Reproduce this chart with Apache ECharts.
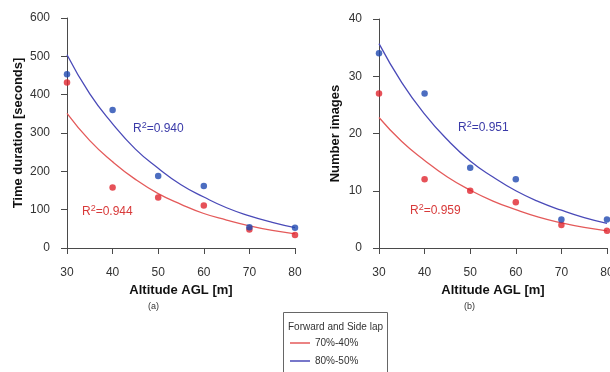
<!DOCTYPE html>
<html><head><meta charset="utf-8">
<script src="https://cdn.jsdelivr.net/npm/echarts@6/dist/echarts.min.js"></script>
<style>html,body{margin:0;padding:0;background:#fff}#c{width:610px;height:372px}</style>
</head><body><div id="c"></div>
<script>
// Data
const altitudes = [30, 40, 50, 60, 70, 80];
const timeRed = [432, 158, 132, 111, 48, 34];     // 70%-40%
const timeBlue = [453, 360, 188, 162, 54, 53];    // 80%-50%
const imgRed = [27, 12, 10, 8, 4, 3];
const imgBlue = [34, 27, 14, 12, 5, 5];
// fitted trend curves
const fitX = [30, 35, 40, 45, 50, 55, 60, 65, 70, 75, 80];
const timeFitRed = [351, 280, 225, 179, 142, 114, 90, 73, 58, 46, 37];
const timeFitBlue = [504, 402, 324, 258, 208, 165, 133, 105, 84, 67, 53];
const imgFitRed = [22.8, 18.6, 15.3, 12.4, 10.1, 8.2, 6.7, 5.4, 4.4, 3.6, 3.0];
const imgFitBlue = [35.7, 28.9, 23.4, 18.9, 15.2, 12.4, 10.0, 8.1, 6.6, 5.3, 4.3];
const r2Labels = ['0.944', '0.940', '0.959', '0.951'];
const xTitle = 'Altitude AGL [m]';
const yTitles = ['Time duration [seconds]', 'Number images'];
const legendNames = ['70%-40%', '80%-50%'];
const legendTitle = 'Forward and Side lap';

const RED = '#e0262e', BLUE = '#1f48b0';
const RED_LINE = '#e45a5a', BLUE_LINE = '#4a4ab8';
const FONT = 'Liberation Sans, Arial, sans-serif';
const pair = (xs, ys) => xs.map((x, i) => [x, ys[i]]);

const axisCommon = {
  axisLine: { show: true, lineStyle: { color: '#4a4a4a', width: 1 } },
  axisTick: { show: true, length: 6, lineStyle: { color: '#4a4a4a' } },
  splitLine: { show: false },
  axisLabel: { color: '#333', fontSize: 12, fontFamily: FONT },
  nameTextStyle: { color: '#111', fontSize: 13, fontWeight: 'bold', fontFamily: FONT }
};
const xAxis = (gi) => Object.assign({}, axisCommon, {
  type: 'value', gridIndex: gi, min: 30, max: 80, interval: 10,
  name: xTitle, nameLocation: 'middle', nameGap: 35,
  axisLabel: Object.assign({}, axisCommon.axisLabel, { margin: 19 })
});
const yAxis = (gi, max, interval, gap) => Object.assign({}, axisCommon, {
  type: 'value', gridIndex: gi, min: 0, max: max, interval: interval,
  name: yTitles[gi], nameLocation: 'middle', nameGap: gap,
  axisLabel: Object.assign({}, axisCommon.axisLabel, { margin: 17 })
});
const scatter = (gi, data, color) => ({
  type: 'scatter', xAxisIndex: gi, yAxisIndex: gi, data: pair(altitudes, data),
  symbolSize: 6.5, itemStyle: { color: color }, z: 3
});
const fit = (gi, data, color, name) => ({
  type: 'line', name: name, xAxisIndex: gi, yAxisIndex: gi, data: pair(fitX, data),
  smooth: 0.5, showSymbol: false, symbol: 'none', lineStyle: { color: color, width: 1.3 },
  itemStyle: { color: color }, z: 2
});
const r2 = (x, y, val, color) => ({
  type: 'text', left: x, top: y,
  style: {
    text: '{a|R}{s|2}{a|=' + val + '}',
    rich: {
      a: { fontSize: 12, fill: color, fontFamily: FONT },
      s: { fontSize: 9, fill: color, fontFamily: FONT, verticalAlign: 'top', padding: [0, 0, 6, 0] }
    }
  }
});

const chart = echarts.init(document.getElementById('c'));
chart.setOption({
  animation: false,
  grid: [
    { left: 67, top: 18, width: 228, height: 230, outerBoundsMode: 'none', containLabel: false },
    { left: 379, top: 19, width: 228, height: 229, outerBoundsMode: 'none', containLabel: false }
  ],
  xAxis: [xAxis(0), xAxis(1)],
  yAxis: [yAxis(0, 600, 100, 42), yAxis(1, 40, 10, 37)],
  legend: {
    data: legendNames, orient: 'vertical', left: 290, top: 338, itemGap: 8, padding: 0,
    itemWidth: 20, itemHeight: 1.5, icon: 'rect',
    textStyle: { fontSize: 10, color: '#333', fontFamily: FONT }
  },
  series: [
    fit(0, timeFitRed, RED_LINE, legendNames[0]),
    fit(0, timeFitBlue, BLUE_LINE, legendNames[1]),
    scatter(0, timeRed, RED), scatter(0, timeBlue, BLUE),
    fit(1, imgFitRed, RED_LINE, legendNames[0]),
    fit(1, imgFitBlue, BLUE_LINE, legendNames[1]),
    scatter(1, imgRed, RED), scatter(1, imgBlue, BLUE)
  ],
  graphic: [
    { type: 'rect', shape: { x: 283.5, y: 312.5, width: 104, height: 64 },
      style: { fill: 'none', stroke: '#666', lineWidth: 1 } },
    { type: 'text', left: 288, top: 322, style: { text: legendTitle, fontSize: 10, fill: '#333', fontFamily: FONT } },
    { type: 'text', left: 148, top: 302, style: { text: '(a)', fontSize: 9, fill: '#333', fontFamily: FONT } },
    { type: 'text', left: 464, top: 302, style: { text: '(b)', fontSize: 9, fill: '#333', fontFamily: FONT } },
    r2(82, 204, r2Labels[0], '#d83a3a'),
    r2(133, 121, r2Labels[1], '#3a3aa8'),
    r2(410, 203, r2Labels[2], '#d83a3a'),
    r2(458, 120, r2Labels[3], '#3a3aa8')
  ]
});
</script></body></html>
